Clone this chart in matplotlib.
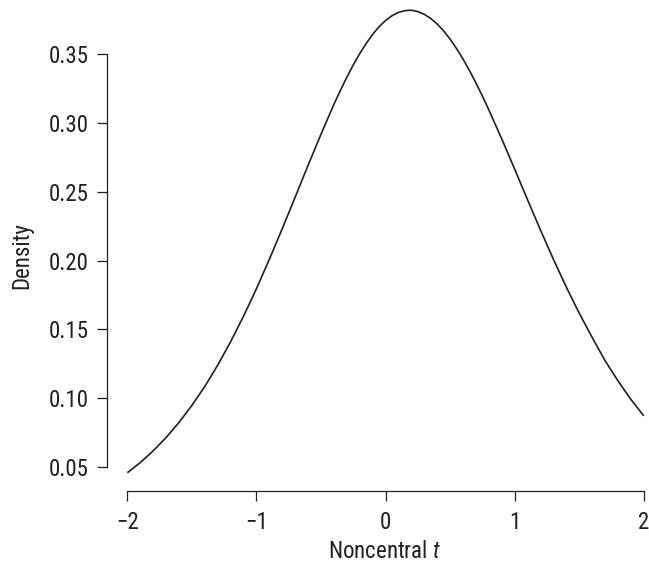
import matplotlib
matplotlib.use("Agg")
import matplotlib.pyplot as plt
from matplotlib import font_manager

# Values
t_values = [-2.0, -1.9, -1.8, -1.7, -1.6, -1.5, -1.4, -1.3, -1.2, -1.1, -1.0,
            -0.9, -0.8, -0.7, -0.6, -0.5, -0.4, -0.35, -0.3, -0.25, -0.2, -0.15, -0.1, -0.05, 0.0,
            0.05, 0.1, 0.15, 0.2, 0.25, 0.3, 0.35, 0.4, 0.45, 0.5, 0.55, 0.6, 0.65, 0.7, 0.75, 0.8, 0.9, 1.0,
            1.1, 1.2, 1.3, 1.4, 1.5, 1.6, 1.7, 1.8, 1.9, 2.0]
density = [0.0456, 0.0530, 0.0615, 0.0712, 0.0822, 0.0946, 0.1084, 0.1239, 0.1409, 0.1595, 0.1795,
           0.2009, 0.2232, 0.2461, 0.2693, 0.2919, 0.3136, 0.3237, 0.3333, 0.3423, 0.3505, 0.3579, 0.3645, 0.3701, 0.3746,
           0.3781, 0.3805, 0.3818, 0.3821, 0.3811, 0.3791, 0.3761, 0.3721, 0.3670, 0.3611, 0.3542, 0.3466, 0.3382, 0.3292, 0.3197, 0.3096, 0.2885, 0.2665,
           0.2442, 0.2222, 0.2009, 0.1807, 0.1617, 0.1441, 0.1272, 0.1125, 0.0990, 0.0870]
x_ticks = [-2, -1, 0, 1, 2]
x_tick_labels = ["\u22122", "\u22121", "0", "1", "2"]
y_ticks = [0.05, 0.10, 0.15, 0.20, 0.25, 0.30, 0.35]
y_tick_labels = ["0.05", "0.10", "0.15", "0.20", "0.25", "0.30", "0.35"]

avail = {f.name for f in font_manager.fontManager.ttflist}
fam = next((n for n in ["Roboto Condensed", "Archivo Narrow", "PT Sans Narrow", "Liberation Sans"] if n in avail),
           "DejaVu Sans")
plt.rcParams["font.family"] = [fam, "DejaVu Sans"]
plt.rcParams["mathtext.fontset"] = "custom"
plt.rcParams["mathtext.rm"] = fam
plt.rcParams["mathtext.it"] = fam + ":italic"

ink = "#231f20"
W, H = 649, 567
fig = plt.figure(figsize=(W / 100, H / 100), dpi=100)
ax = fig.add_axes([106.7 / W, 75.7 / H, 557.7 / W, 500.2 / H])
ax.plot(t_values, density, color=ink, lw=1.2, solid_joinstyle="round", solid_capstyle="butt")

ax.set_xlim(-2.16, 2.16)
ax.set_ylim(0.0321, 0.3960)
for s in ("top", "right"):
    ax.spines[s].set_visible(False)
ax.spines["left"].set_bounds(0.05, 0.35)
ax.spines["bottom"].set_bounds(-2, 2)
for s in ("left", "bottom"):
    ax.spines[s].set_color(ink)
    ax.spines[s].set_linewidth(0.9)

ax.set_xticks(x_ticks)
ax.set_xticklabels(x_tick_labels)
ax.set_yticks(y_ticks)
ax.set_yticklabels(y_tick_labels)
ax.tick_params(axis="both", direction="out", length=7.2, width=0.9, color=ink,
               labelcolor=ink, labelsize=16.5)
ax.tick_params(axis="y", pad=6)
ax.tick_params(axis="x", pad=7)

ax.set_xlabel("Noncentral $t$", fontsize=16.5, color=ink)
ax.set_ylabel("Density", fontsize=16.5, color=ink)
ax.xaxis.label.set_va("center")
ax.yaxis.label.set_va("center")
ax.xaxis.set_label_coords(0.4972, -0.1194)
ax.yaxis.set_label_coords(-0.1519, 0.4704)

fig.savefig("out.png", dpi=100)
